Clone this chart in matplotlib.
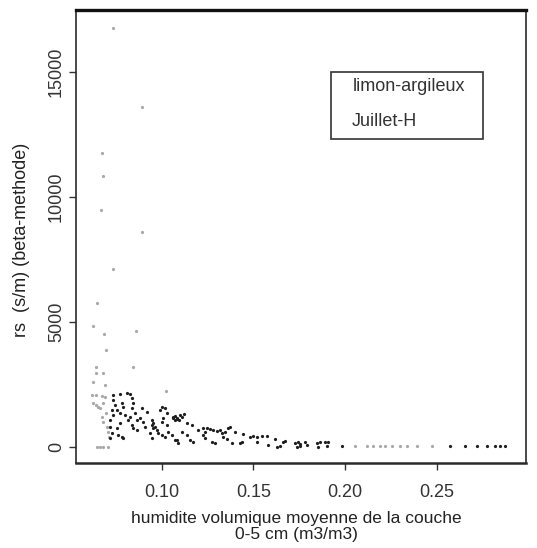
import numpy as np
import matplotlib.pyplot as plt
from matplotlib.patches import Rectangle

plt.rcParams['font.family'] = ['Liberation Sans', 'DejaVu Sans']

# points faibles (grises)
gray_x = [0.0732, 0.0891, 0.0672, 0.0678, 0.0667, 0.0891, 0.0732, 0.0645, 0.0623, 0.0683,
          0.0858, 0.0694, 0.0842, 0.0639, 0.0639, 0.0678, 0.0623, 0.0689, 0.1022,
          0.0617, 0.0639, 0.0672, 0.0689, 0.0623, 0.0639, 0.0650, 0.0661, 0.0678, 0.0672,
          0.0678, 0.0699, 0.0705, 0.0710, 0.0694, 0.0645, 0.0661, 0.0678, 0.0705,
          0.2055, 0.2120, 0.2153, 0.2191, 0.2219, 0.2257, 0.2301, 0.2339, 0.2393, 0.2475]
gray_y = [16760, 13600, 11760, 10840, 9480, 8600, 7120, 5760, 4840, 4520,
          4640, 3880, 3200, 3200, 2960, 2960, 2600, 2480, 2240,
          2080, 2080, 2040, 2000, 1760, 1680, 1600, 1560, 1760, 1200,
          1000, 800, 600, 400, 1360, 0, 0, 0, 0,
          40, 40, 60, 60, 50, 60, 50, 60, 60, 40]

# points noirs
black_x = [0.0732, 0.0770, 0.0809, 0.0825, 0.0732, 0.0743, 0.0727, 0.0781, 0.0787, 0.0836,
           0.0842, 0.0836, 0.0754, 0.0770, 0.0732, 0.0716, 0.0798, 0.0825, 0.0814, 0.0852,
           0.0863, 0.0836, 0.0842, 0.0863, 0.0770, 0.0754, 0.0716, 0.0727, 0.0716, 0.0760,
           0.0781, 0.0787, 0.0880, 0.0896, 0.0907, 0.0891, 0.0918, 0.0945, 0.0951, 0.0945,
           0.0962, 0.0951, 0.0934, 0.0945, 0.0973, 0.0978, 0.0989, 0.1000, 0.1016, 0.1027,
           0.1005, 0.1000, 0.1027, 0.1000, 0.1016, 0.1033, 0.1060, 0.1082, 0.1071, 0.1082,
           0.1060, 0.1071, 0.1082, 0.1098, 0.1109, 0.1120, 0.1093, 0.1137, 0.1164, 0.1109,
           0.1137, 0.1055, 0.1071, 0.1087, 0.1153, 0.1169, 0.1197, 0.1224, 0.1235, 0.1246,
           0.1262, 0.1279, 0.1301, 0.1224, 0.1235, 0.1273, 0.1290, 0.1317, 0.1328, 0.1344,
           0.1361, 0.1372, 0.1333, 0.1355, 0.1383, 0.1399, 0.1426, 0.1437, 0.1443, 0.1481,
           0.1497, 0.1519, 0.1546, 0.1574, 0.1519, 0.1579, 0.1617, 0.1628, 0.1645, 0.1672,
           0.1727, 0.1743, 0.1754, 0.1738, 0.1754, 0.1781, 0.1792, 0.1847, 0.1852, 0.1891,
           0.1902, 0.1984, 0.1661, 0.1863, 0.1907,
           0.2574, 0.2656, 0.2721, 0.2776, 0.2820, 0.2847, 0.2874]
black_y = [2080, 2120, 2160, 2120, 1880, 1680, 1480, 1760, 1600, 1960,
           1760, 1560, 1480, 1360, 1280, 1080, 1280, 1200, 1080, 1360,
           1080, 880, 760, 680, 960, 760, 800, 560, 360, 480,
           400, 360, 1160, 1000, 800, 1560, 1400, 1080, 960, 880,
           800, 760, 560, 360, 680, 560, 1480, 1600, 1560, 1360,
           1160, 1000, 880, 480, 400, 600, 1200, 1160, 1080, 280,
           1160, 1240, 1120, 1280, 1200, 1320, 1080, 960, 880, 600,
           480, 480, 280, 160, 280, 200, 680, 760, 600, 760,
           720, 680, 640, 480, 360, 200, 160, 680, 560, 600,
           760, 800, 400, 320, 160, 600, 160, 200, 520, 400,
           440, 400, 440, 440, 200, 80, 320, 20, 40, 240,
           160, 200, 120, 20, 30, 200, 80, 160, 20, 200,
           40, 40, 200, 200, 200,
           30, 30, 30, 30, 30, 40, 30]

xticks = [0.10, 0.15, 0.20, 0.25]
yticks = [0, 5000, 10000, 15000]

fig = plt.figure(figsize=(5.37, 5.48), dpi=100)
ax = fig.add_axes([0.1415, 0.155, 0.838, 0.827])

ax.plot(gray_x, gray_y, 'o', ms=2.3, color='#a8a8a8', mec='none')
ax.plot(black_x, black_y, 'o', ms=2.3, color='#1e1e1e', mec='none')

ax.set_xlim(0.0530, 0.2989)
ax.set_ylim(-640, 17480)
ax.set_xticks(xticks)
ax.set_xticklabels(['%.2f' % t for t in xticks])
ax.set_yticks(yticks)
ax.set_yticklabels([str(t) for t in yticks], rotation=90, va='center')
ax.tick_params(labelsize=13, length=5, width=1, colors='#333333')
ax.tick_params(axis='x', pad=10)
ax.tick_params(axis='y', pad=3)

for s in ax.spines.values():
    s.set_linewidth(1.2)
    s.set_color('#2a2a2a')
ax.spines['top'].set_linewidth(2.4)
ax.spines['top'].set_color('#111111')
ax.spines['bottom'].set_linewidth(1.8)

# boite de legende
ax.add_patch(Rectangle((0.567, 0.715), 0.337, 0.148, transform=ax.transAxes,
                       fill=False, lw=1.2, ec='#333333'))
ax.text(0.616, 0.830, 'limon-argileux', transform=ax.transAxes, fontsize=13,
        va='center', color='#333333')
ax.text(0.612, 0.753, 'Juillet-H', transform=ax.transAxes, fontsize=13,
        va='center', color='#333333')

fig.text(22 / 537, 1 - 240 / 548, 'rs  (s/m) (beta-methode)', rotation=90,
         fontsize=13, ha='center', va='center', color='#222222')
fig.text(296 / 537, 1 - 518 / 548, 'humidite volumique moyenne de la couche',
         fontsize=12.5, ha='center', va='center', color='#222222')
fig.text(296 / 537, 1 - 535 / 548, '0-5 cm (m3/m3)',
         fontsize=12.5, ha='center', va='center', color='#222222')

fig.savefig('out.png', dpi=100)
